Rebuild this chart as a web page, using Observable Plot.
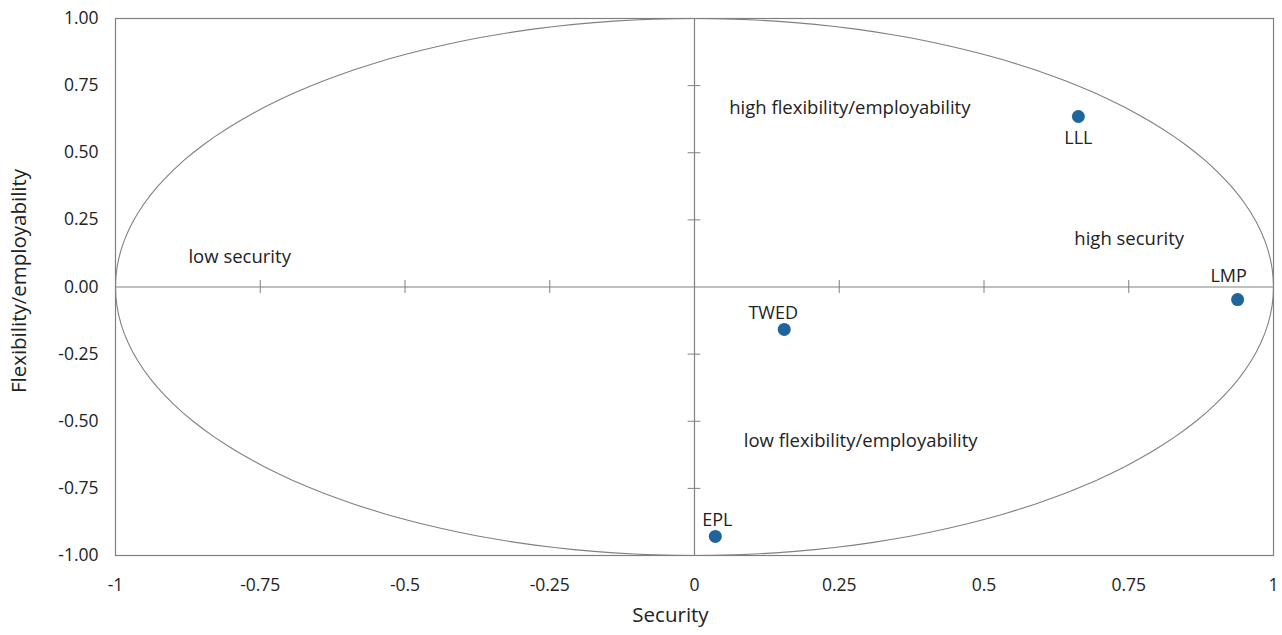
<!DOCTYPE html>
<html>
<head>
<meta charset="utf-8">
<script src="https://cdn.jsdelivr.net/npm/d3@7"></script>
<script src="https://cdn.jsdelivr.net/npm/@observablehq/plot@0.6"></script>
<style>
  html, body { margin: 0; padding: 0; background: #fff; }
  #chart svg { display: block; }
</style>
</head>
<body>
<div id="chart"></div>
<script>
// --- Data ---
const pointNames = ["LLL", "LMP", "TWED", "EPL"];
const securityValues = [0.663, 0.938, 0.155, 0.036];
const flexibilityValues = [0.635, -0.047, -0.158, -0.929];
const labelDx = [0, -9, -11, 2];
const labelDy = [22, -23, -16, -16];

const regionNames = ["high flexibility/employability", "high security", "low security", "low flexibility/employability"];
const regionX = [0.06, 0.656, -0.874, 0.085];
const regionY = [0.668, 0.177, 0.11, -0.572];

const xTickValues = [-1, -0.75, -0.5, -0.25, 0, 0.25, 0.5, 0.75, 1];
const xTickLabels = ["-1", "-0.75", "-0.5", "-0.25", "0", "0.25", "0.5", "0.75", "1"];
const yTickValues = [-1, -0.75, -0.5, -0.25, 0, 0.25, 0.5, 0.75, 1];
const yTickLabels = ["-1.00", "-0.75", "-0.50", "-0.25", "0.00", "0.25", "0.50", "0.75", "1.00"];

// --- Build ---
const points = pointNames.map((n, i) => ({name: n, x: securityValues[i], y: flexibilityValues[i]}));
const regions = regionNames.map((n, i) => ({name: n, x: regionX[i], y: regionY[i]}));
// reference unit circle (geometry, stretched into an ellipse by the scales)
const circle = d3.range(0, 361, 2).map(a => ({x: Math.cos(a * Math.PI / 180), y: Math.sin(a * Math.PI / 180)}));

const xLab = new Map(xTickValues.map((v, i) => [v, xTickLabels[i]]));
const yLab = new Map(yTickValues.map((v, i) => [v, yTickLabels[i]]));
const innerX = xTickValues.filter(v => v !== 0 && Math.abs(v) !== 1);
const innerY = yTickValues.filter(v => v !== 0 && Math.abs(v) !== 1);

const gray = "#808080";
const ink = "#222";
const pointLabelMarks = points.map((p, i) =>
  Plot.text([p], {x: "x", y: "y", text: "name", dx: labelDx[i], dy: labelDy[i], fontSize: 18, fill: ink})
);

const chart = Plot.plot({
  width: 1282,
  height: 635,
  marginTop: 18,
  marginBottom: 80,
  marginLeft: 115,
  marginRight: 9,
  style: {fontFamily: "'Open Sans', sans-serif", fontSize: "17px", color: ink, background: "#fff"},
  x: {domain: [-1, 1]},
  y: {domain: [-1, 1]},
  marks: [
    Plot.frame({stroke: gray, strokeWidth: 1.2}),
    Plot.line(circle, {x: "x", y: "y", stroke: gray, strokeWidth: 1.1}),
    Plot.ruleY([0], {stroke: gray, strokeWidth: 1.2}),
    Plot.ruleX([0], {stroke: gray, strokeWidth: 1.2}),
    Plot.ruleX(innerX, {x: d => d, y1: -0.024, y2: 0.024, stroke: gray, strokeWidth: 1}),
    Plot.ruleY(innerY, {y: d => d, x1: -0.011, x2: 0.011, stroke: gray, strokeWidth: 1}),
    Plot.axisX({ticks: xTickValues, tickFormat: d => xLab.get(d), tickSize: 0, tickPadding: 23, label: null, fontSize: 17.5}),
    Plot.axisY({ticks: yTickValues, tickFormat: d => yLab.get(d), tickSize: 0, tickPadding: 17, label: null, fontSize: 17.5}),
    Plot.text(["Security"], {frameAnchor: "bottom", textAnchor: "middle", dx: -24, dy: 66, fontSize: 20.5, fill: ink}),
    Plot.text(["Flexibility/employability"], {frameAnchor: "left", textAnchor: "middle", rotate: -90, dx: -96, dy: -6, fontSize: 20.5, fill: ink}),
    Plot.text(regions, {x: "x", y: "y", text: "name", textAnchor: "start", fontSize: 18.5, fill: ink}),
    Plot.dot(points, {x: "x", y: "y", r: 6.5, fill: "#21649c"}),
    ...pointLabelMarks
  ]
});
document.getElementById("chart").append(chart);
</script>
</body>
</html>
